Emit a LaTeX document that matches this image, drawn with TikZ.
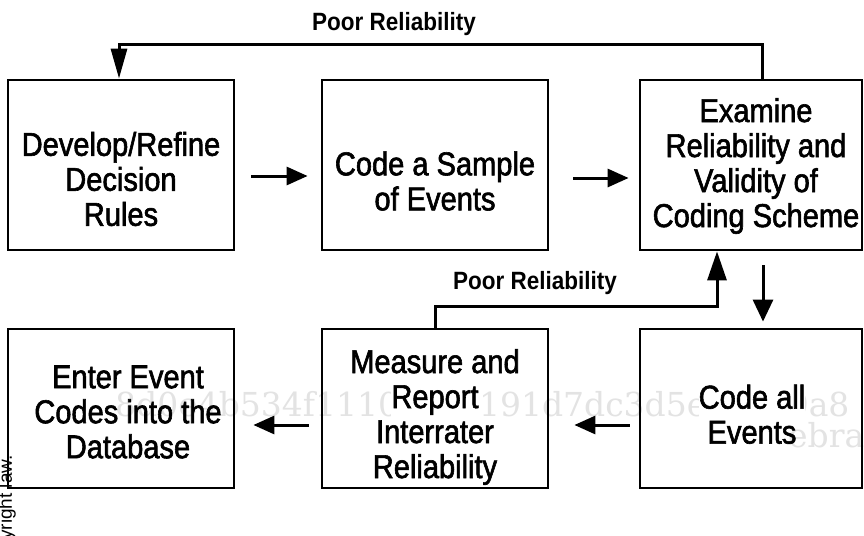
\documentclass[tikz,border=0pt]{standalone}
\usepackage{fontspec}
\setmainfont{Liberation Sans}
\newfontfamily\boxfont{Liberation Sans}[FakeStretch=0.88, FakeBold=1.8]
\newfontfamily\notefont{Liberation Sans Bold}[FakeStretch=0.9]
\newfontfamily\markfont{DejaVu Serif}
\usetikzlibrary{arrows.meta,calc}
% a line of box text set on a white ground
\newcommand\onwhite[1]{{\setlength{\fboxsep}{0pt}\colorbox{white}{\strut #1}}}

\begin{document}
\begin{tikzpicture}[x=1pt,y=-1pt,
  box/.style={draw, line width=2.8pt, inner sep=0pt},
  lbl/.style={font=\boxfont\fontsize{33}{35}\selectfont, align=center, inner sep=0pt},
  note/.style={font=\notefont\fontsize{25}{27}\selectfont, inner sep=0pt},
  wm/.style={font=\markfont\fontsize{33}{33}\selectfont, text=black!11, inner sep=0pt},
  link/.style={line width=3pt},
  tip/.style={-{Triangle[length=21pt,width=18pt]}},
]
\clip (0,0) rectangle (864,535);
\useasboundingbox (0,0) rectangle (864,535);
\fill[white] (0,0) rectangle (864,535);

% faint watermark behind the chart
\node[wm, anchor=base west] (wm1) at (115,416) {8d0e4b534f1110e7c4191d7dc3d5e5c529a8};
\node[wm, anchor=base west] (wm2) at (788,447) {ebrary};

% process boxes
\node[box, minimum width=226pt, minimum height=170pt] (b1) at (121,165) {};
\node[box, minimum width=226pt, minimum height=170pt] (b2) at (435,165) {};
\node[box, minimum width=222pt, minimum height=170pt] (b3) at (751,165) {};
\node[box, minimum width=226pt, minimum height=159pt] (b4) at (121,408.5) {};
\node[box, minimum width=226pt, minimum height=159pt] (b5) at (435,408.5) {};
\node[box, minimum width=222pt, minimum height=159pt] (b6) at (751,408.5) {};

% box texts
\node[lbl] (t1) at (121,179) {Develop/Refine\\Decision\\Rules};
\node[lbl] (t2) at (435,181) {Code a Sample\\of Events};
\node[lbl] (t3) at (756,166) {Examine\\Reliability and\\Validity of\\Coding Scheme};
\node[lbl] (t4) at (128,412) {Enter Event\\Codes into the\\Database};
\node[lbl] (t5) at (435,417) {Measure and\\\onwhite{Report}\\Interrater\\Reliability};
\node[lbl] (t6) at (752,414) {\onwhite{Code all}\\Events};

% forward arrows
\coordinate (ya) at (0,176);
\coordinate (yb) at (0,178);
\coordinate (yc) at (0,425);
\draw[link,tip,shorten <=16pt,shorten >=13pt] (b1.east |- ya) -- (b2.west |- ya);
\draw[link,tip,shorten <=24pt,shorten >=10pt] (b2.east |- yb) -- (b3.west |- yb);
\draw[link,tip,shorten <=9pt,shorten >=25pt] (b6.west |- yc) -- (b5.east |- yc);
\draw[link,tip,shorten <=12pt,shorten >=18pt] (b5.west |- yc) -- (b4.east |- yc);

% down to coding all events
\coordinate (dn) at (763,265);
\draw[link,-{Triangle[length=22pt,width=20pt]},shorten >=6pt] (dn) -- (b6.north -| dn);

% feedback loops
\coordinate (lpR) at (762,45);
\coordinate (lpL) at (119,45);
\draw[link,-{Triangle[length=30pt,width=16pt]}] (b3.north -| lpR) -- (lpR) -- (lpL) -- (b1.north -| lpL);
\coordinate (lpM) at (435,306);
\coordinate (lpU) at (717,306);
\draw[link,-{Triangle[length=29pt,width=19pt]}] (b5.north -| lpM) -- (lpM) -- (lpU) -- (b3.south -| lpU);

\node[note] (pr1) at (394,24) {Poor Reliability};
\node[note] (pr2) at (535,283) {Poor Reliability};

% edge note
\node[font=\fontsize{19}{19}\selectfont, rotate=90, anchor=base west, inner sep=0pt] (cr) at (12,540) {yright law.};
\end{tikzpicture}
\end{document}
